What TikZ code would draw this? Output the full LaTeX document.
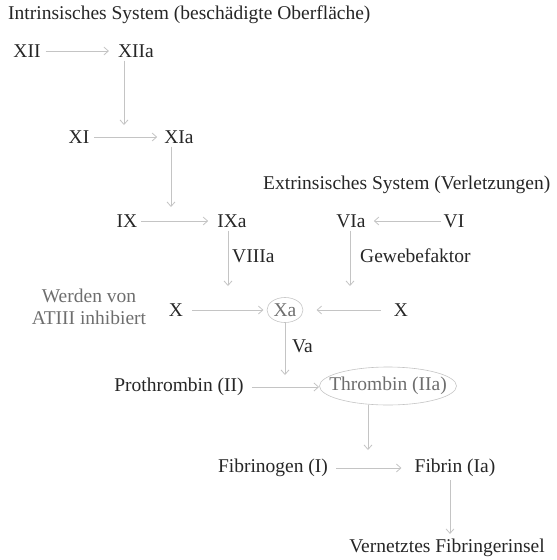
\documentclass[tikz,border=0pt]{standalone}
\usepackage{fontspec}
\setmainfont{Liberation Serif}
\usetikzlibrary{arrows.meta,shapes.geometric}
\definecolor{txt}{HTML}{262626}
\definecolor{gtxt}{HTML}{6E6E6E}
\definecolor{ln}{HTML}{C4C4C4}
\tikzset{
  lbl/.style={text=txt,font=\fontsize{19.5}{22}\selectfont,inner sep=3pt},
  glbl/.style={text=gtxt,font=\fontsize{19.5}{22}\selectfont,inner sep=3pt},
  elltxt/.style={text=gtxt,font=\fontsize{19.5}{22}\selectfont,inner ysep=3pt},
  ellline/.style={draw=ln,line width=0.6pt},
  arr/.style={draw=ln,line width=0.8pt,-{Straight Barb[length=4.5pt,width=8pt]}}
}
\begin{document}
\begin{tikzpicture}[x=1pt,y=-1pt]
\useasboundingbox (0,0) rectangle (557,560);
\node[lbl,anchor=west,inner sep=0pt] (t1) at (8,15) {Intrinsisches System (beschädigte Oberfläche)};
\node[lbl] (XII) at (27,51) {XII};
\node[lbl] (XIIa) at (136,51) {XIIa};
\node[lbl] (XI) at (79,137) {XI};
\node[lbl] (XIa) at (179,137) {XIa};
\node[lbl,anchor=west,inner sep=0pt] (t2) at (263,185) {Extrinsisches System (Verletzungen)};
\node[lbl] (IX) at (127,221) {IX};
\node[lbl] (IXa) at (232,221) {IXa};
\node[lbl] (VIa) at (351,221) {VIa};
\node[lbl] (VI) at (454,221) {VI};
\node[lbl,anchor=west,inner sep=0pt] (VIIIa) at (232,256) {VIIIa};
\node[lbl,anchor=west,inner sep=0pt] (gew) at (360,256) {Gewebefaktor};
\node[glbl,align=center,font=\fontsize{19.5}{22}\selectfont] (inh) at (89,307) {Werden von\\ATIII inhibiert};
\node[lbl] (Xl) at (176,310) {X};
\node[elltxt,inner xsep=6pt] (Xa) at (285,310) {Xa};
\draw[ellline] (Xa.center) ellipse [x radius=18, y radius=12.5];
\node[lbl] (Xr) at (401,310) {X};
\node[lbl,anchor=west,inner sep=0pt] (Va) at (292,346) {Va};
\node[lbl] (pro) at (179,387) {Prothrombin (II)};
\node[elltxt,inner xsep=9pt] (thr) at (388,386) {Thrombin (IIa)};
\draw[ellline] (thr.center) ellipse [x radius=68.5, y radius=19];
\node[lbl] (fgen) at (273,468) {Fibrinogen (I)};
\node[lbl] (fib) at (455,468) {Fibrin (Ia)};
\node[lbl] (vern) at (447,548) {Vernetztes Fibringerinsel};
\coordinate (e1) at (124,125);
\coordinate (e2) at (171,207);
\coordinate (e3) at (228,286);
\coordinate (e4) at (350,286);
\coordinate (e5) at (285,375);
\coordinate (e6) at (368,450);
\coordinate (s6) at (368,405);
\draw[arr,shorten <=2pt,shorten >=6pt] (XII) -- (XIIa);
\draw[arr] (XIIa.south -| e1) -- (e1);
\draw[arr,shorten <=2pt,shorten >=4pt] (XI) -- (XIa);
\draw[arr] (XIa.south -| e2) -- (e2);
\draw[arr,shorten <=1pt,shorten >=6pt] (IX) -- (IXa);
\draw[arr] (IXa.south -| e3) -- (e3);
\draw[arr,shorten <=0pt,shorten >=5pt] (VI) -- (VIa);
\draw[arr] (VIa.south -| e4) -- (e4);
\draw[arr,shorten <=6pt,shorten >=4pt] (Xl) -- (Xa);
\draw[arr,shorten <=10pt,shorten >=14pt] (Xr) -- (Xa);
\draw[arr] (Xa.south |- 0,323) -- (e5);
\draw[arr,shorten <=5pt,shorten >=1pt] (pro.east) -- (thr.west |- pro.east);
\draw[arr] (s6) -- (e6);
\draw[arr,shorten <=5pt,shorten >=10pt] (fgen) -- (fib);
\draw[arr,shorten <=0pt,shorten >=2pt] (fib.south -| 450,0) -- (vern.north -| 450,0);
\end{tikzpicture}
\end{document}
